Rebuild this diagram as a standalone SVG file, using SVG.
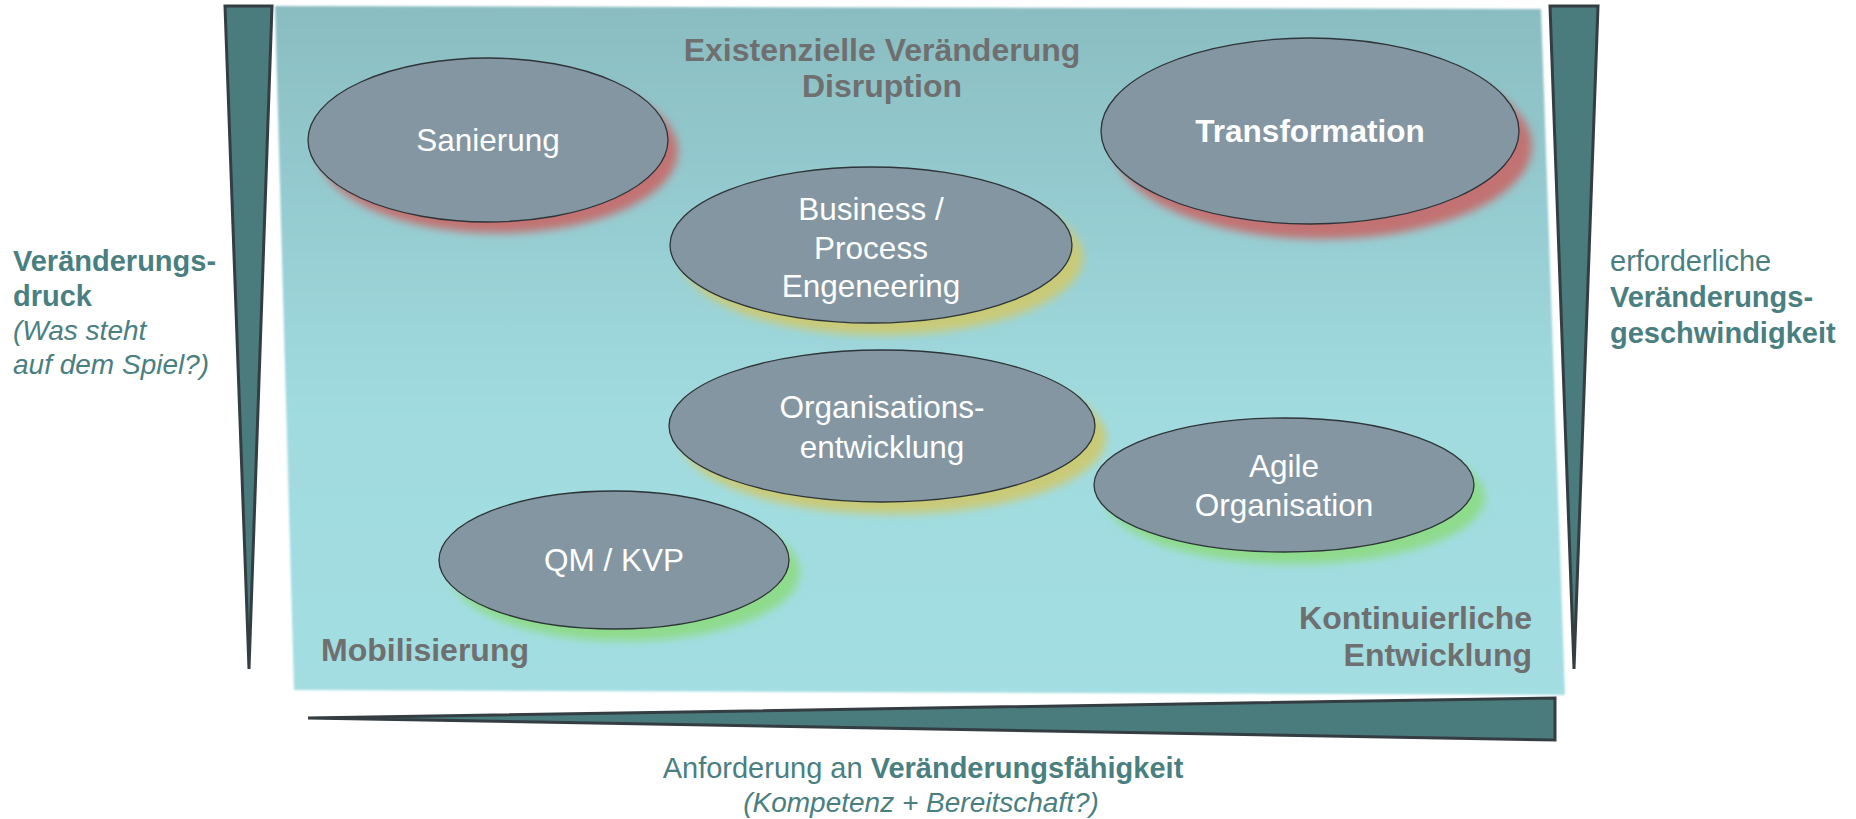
<svg xmlns="http://www.w3.org/2000/svg" width="1856" height="819" viewBox="0 0 1856 819">
<style>
.wedge{fill:#4a7c7e;stroke:#333d42;stroke-width:3;stroke-linejoin:miter}
.node{fill:#8396a2;stroke:#2e3438;stroke-width:1.3}
.nt{font-family:"Liberation Sans",Arial,sans-serif;font-size:31.5px;fill:#ffffff;text-anchor:middle}
.gl{font-family:"Liberation Sans",Arial,sans-serif;font-size:32px;font-weight:bold;fill:#6f6f6f}
.tl{font-family:"Liberation Sans",Arial,sans-serif;font-size:29px;fill:#4a7f81}
.b{font-weight:bold}
.i{font-style:italic;font-size:28px}
.shr{fill:#c27272}
.shy{fill:#c9ca78}
.shg{fill:#8edb8c}
</style>
<defs>
<linearGradient id="bg" x1="0" y1="0" x2="0" y2="1">
<stop offset="0" stop-color="#8abdc2"/>
<stop offset="0.6" stop-color="#a1dbe0"/>
<stop offset="1" stop-color="#a3dee2"/>
</linearGradient>
<filter id="blur" x="-20%" y="-20%" width="140%" height="140%">
<feGaussianBlur stdDeviation="4.5"/>
</filter>
<filter id="soft" x="-5%" y="-5%" width="110%" height="110%">
<feGaussianBlur stdDeviation="1"/>
</filter>
</defs>
<rect width="1856" height="819" fill="#ffffff"/>
<g id="panel">
<polygon points="275,6 1541,9 1565,695 294,690" fill="url(#bg)" filter="url(#soft)"/>
</g>
<g id="axis-left">
<polygon class="wedge" points="225,6 272,6 249,669"/>
</g>
<g id="axis-right">
<polygon class="wedge" points="1550,6 1598,6 1574,669"/>
</g>
<g id="axis-bottom">
<polygon class="wedge" points="308,718 1555,698 1555,740"/>
</g>
<g id="connectors"></g>
<g id="label-top">
<text class="gl" x="882" y="61" text-anchor="middle">Existenzielle Veränderung</text>
<text class="gl" x="882" y="97" text-anchor="middle">Disruption</text>
</g>
<g id="label-mobilisierung">
<text class="gl" x="321" y="661">Mobilisierung</text>
</g>
<g id="label-kontinuierlich">
<text class="gl" x="1532" y="629" text-anchor="end">Kontinuierliche</text>
<text class="gl" x="1532" y="666" text-anchor="end">Entwicklung</text>
</g>
<g id="node-sanierung">
<ellipse class="shr" cx="498" cy="151" rx="180" ry="82" filter="url(#blur)"/>
<ellipse class="node" cx="488" cy="140" rx="180" ry="82"/>
<text class="nt" x="488" y="151">Sanierung</text>
</g>
<g id="node-transformation">
<ellipse class="shr" cx="1323" cy="146" rx="209" ry="93" filter="url(#blur)"/>
<ellipse class="node" cx="1310" cy="131" rx="209" ry="93"/>
<text class="nt b" x="1310" y="142">Transformation</text>
</g>
<g id="node-business">
<ellipse class="shy" cx="882" cy="257" rx="201" ry="78" filter="url(#blur)"/>
<ellipse class="node" cx="871" cy="245" rx="201" ry="78"/>
<text class="nt" x="871" y="220">Business /</text>
<text class="nt" x="871" y="259">Process</text>
<text class="nt" x="871" y="297">Engeneering</text>
</g>
<g id="node-organisationsentwicklung">
<ellipse class="shy" cx="893" cy="438" rx="213" ry="76" filter="url(#blur)"/>
<ellipse class="node" cx="882" cy="426" rx="213" ry="76"/>
<text class="nt" x="882" y="418">Organisations-</text>
<text class="nt" x="882" y="458">entwicklung</text>
</g>
<g id="node-agile">
<ellipse class="shg" cx="1295" cy="497" rx="190" ry="67" filter="url(#blur)"/>
<ellipse class="node" cx="1284" cy="485" rx="190" ry="67"/>
<text class="nt" x="1284" y="477">Agile</text>
<text class="nt" x="1284" y="516">Organisation</text>
</g>
<g id="node-qm">
<ellipse class="shg" cx="625" cy="572" rx="175" ry="69" filter="url(#blur)"/>
<ellipse class="node" cx="614" cy="560" rx="175" ry="69"/>
<text class="nt" x="614" y="571">QM / KVP</text>
</g>
<g id="label-left">
<text class="tl b" x="13" y="271">Veränderungs-</text>
<text class="tl b" x="13" y="306">druck</text>
<text class="tl i" x="13" y="340">(Was steht</text>
<text class="tl i" x="13" y="374">auf dem Spiel?)</text>
</g>
<g id="label-right">
<text class="tl" x="1610" y="271">erforderliche</text>
<text class="tl b" x="1610" y="307">Veränderungs-</text>
<text class="tl b" x="1610" y="343">geschwindigkeit</text>
</g>
<g id="label-bottom">
<text class="tl" x="923" y="778" text-anchor="middle">Anforderung an <tspan class="b">Veränderungsfähigkeit</tspan></text>
<text class="tl i" x="921" y="812" text-anchor="middle">(Kompetenz + Bereitschaft?)</text>
</g>
</svg>
